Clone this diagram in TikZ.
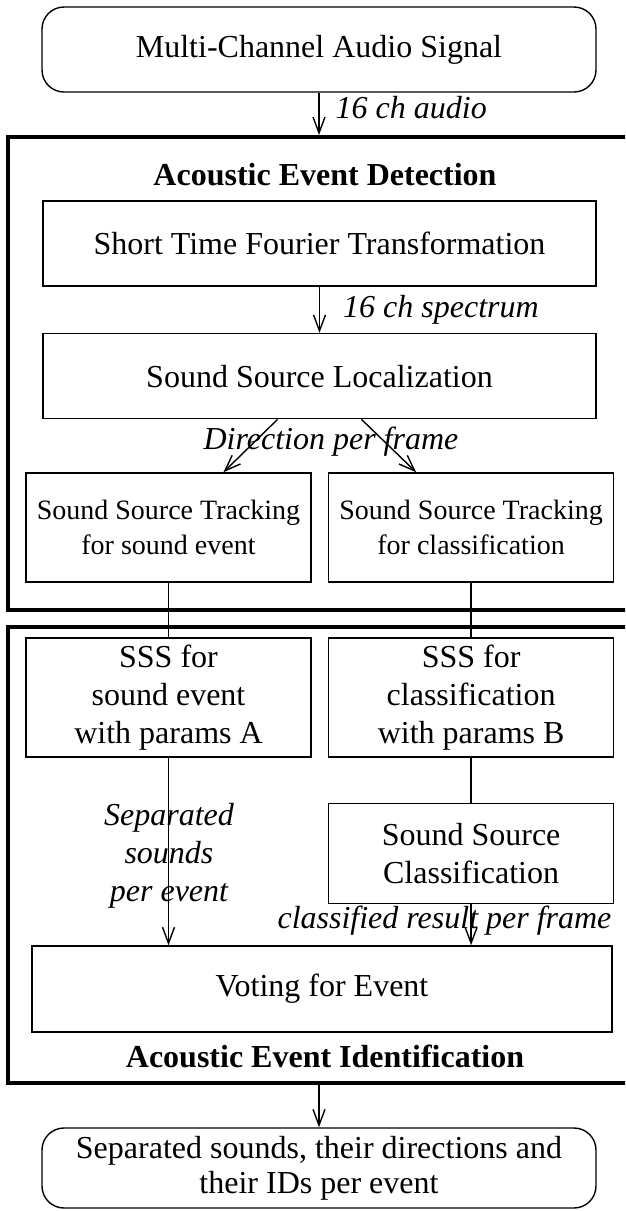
\documentclass[tikz,border=0pt]{standalone}
\usepackage{fontspec}
\setmainfont{Liberation Serif}
\usetikzlibrary{positioning, calc, arrows.meta}

\begin{document}
\begin{tikzpicture}[
    x=1pt, y=1pt,
    node distance=16pt and 16pt,
    box/.style={rectangle, draw, line width=1.6pt, align=center,
                font=\fontsize{32}{38}\selectfont, inner sep=0pt},
    small/.style={box, font=\fontsize{28}{35}\selectfont,
                  minimum width=285pt, minimum height=109pt},
    term/.style={box, rounded corners=22pt, line width=1.4pt},
    frame/.style={rectangle, draw, line width=4pt, inner sep=0pt},
    title/.style={font=\fontsize{32}{38}\selectfont\bfseries},
    lbl/.style={font=\fontsize{32}{38}\selectfont\itshape, inner sep=2pt,
                align=center},
    arrow/.style={-{Straight Barb[length=16pt,width=12pt]}, line width=1.4pt},
    link/.style={line width=1.4pt},
  ]
    \useasboundingbox (0,0) rectangle (625,-1211);
    \clip (0,0) rectangle (625,-1211);

    % Input signal
    \node[term, minimum width=554pt, minimum height=85pt] (IN) at (319,-49.5)
      {Multi-Channel Audio Signal};

    % Stage 1: detection
    \node[frame, minimum width=652pt, minimum height=473pt] (F1) at (334,-373.5) {};
    \node[title, anchor=base] (H1) at (325,-185) {Acoustic Event Detection};
    \node[box, minimum width=553pt, minimum height=85pt] (STFT) at (319.5,-243.5)
      {Short Time Fourier Transformation};
    \node[box, minimum width=553pt, minimum height=85pt, below=46pt of STFT] (SSL)
      {Sound Source Localization};
    \node[small] (TR1) at (168.5,-527.5) {Sound Source Tracking\\for sound event};
    \node[small, right=of TR1] (TR2) {Sound Source Tracking\\for classification};

    % Stage 2: identification
    \node[frame, minimum width=652pt, minimum height=456pt] (F2) at (334,-855) {};
    \node[box, minimum width=285pt, minimum height=119pt] (SSS1) at (168.5,-697.5)
      {SSS for\\sound event\\with params A};
    \node[box, minimum width=285pt, minimum height=119pt, right=of SSS1] (SSS2)
      {SSS for\\classification\\with params B};
    \node[box, minimum width=285pt, minimum height=100pt, below=45pt of SSS2] (CLS)
      {Sound Source\\Classification};
    \node[box, minimum width=580pt, minimum height=86pt] (VOTE) at (322,-989)
      {Voting for Event};
    \node[title, anchor=base] (H2) at (325,-1067) {Acoustic Event Identification};

    % Output
    \node[term, minimum width=554pt, minimum height=80pt,
          font=\fontsize{32}{35}\selectfont] (OUT) at (319,-1168)
      {Separated sounds, their directions and\\their IDs per event};

    % Connections
    \draw[arrow] (IN.south) -- (IN.south |- F1.north)
      node[lbl, anchor=base west, pos=0.62, xshift=14pt] {16 ch audio};
    \draw[arrow] (STFT) -- (SSL)
      node[lbl, anchor=base west, pos=0.67, xshift=21pt] {16 ch spectrum};
    \node[lbl, anchor=base] (DIR) at (331,-449) {Direction per frame};
    \draw[arrow] ($(SSL.south)+(-42,0)$) -- ($(TR1.north)+(55,0)$);
    \draw[arrow] ($(SSL.south)+(42,0)$) -- ($(TR2.north)+(-55,0)$);
    \draw[link] (TR1) -- (SSS1);
    \draw[link] (TR2) -- (SSS2);
    \draw[link] (SSS2) -- (CLS);
    \draw[arrow] (SSS1) -- (SSS1 |- VOTE.north);
    \node[lbl] (SEP) at (169,-856) {Separated\\sounds\\per event};
    \draw[arrow] (CLS) -- (CLS |- VOTE.north);
    \node[lbl, anchor=base] (CLR) at (444.5,-928) {classified result per frame};
    \draw[arrow] (OUT.north |- F2.south) -- (OUT);
  \end{tikzpicture}
\end{document}
